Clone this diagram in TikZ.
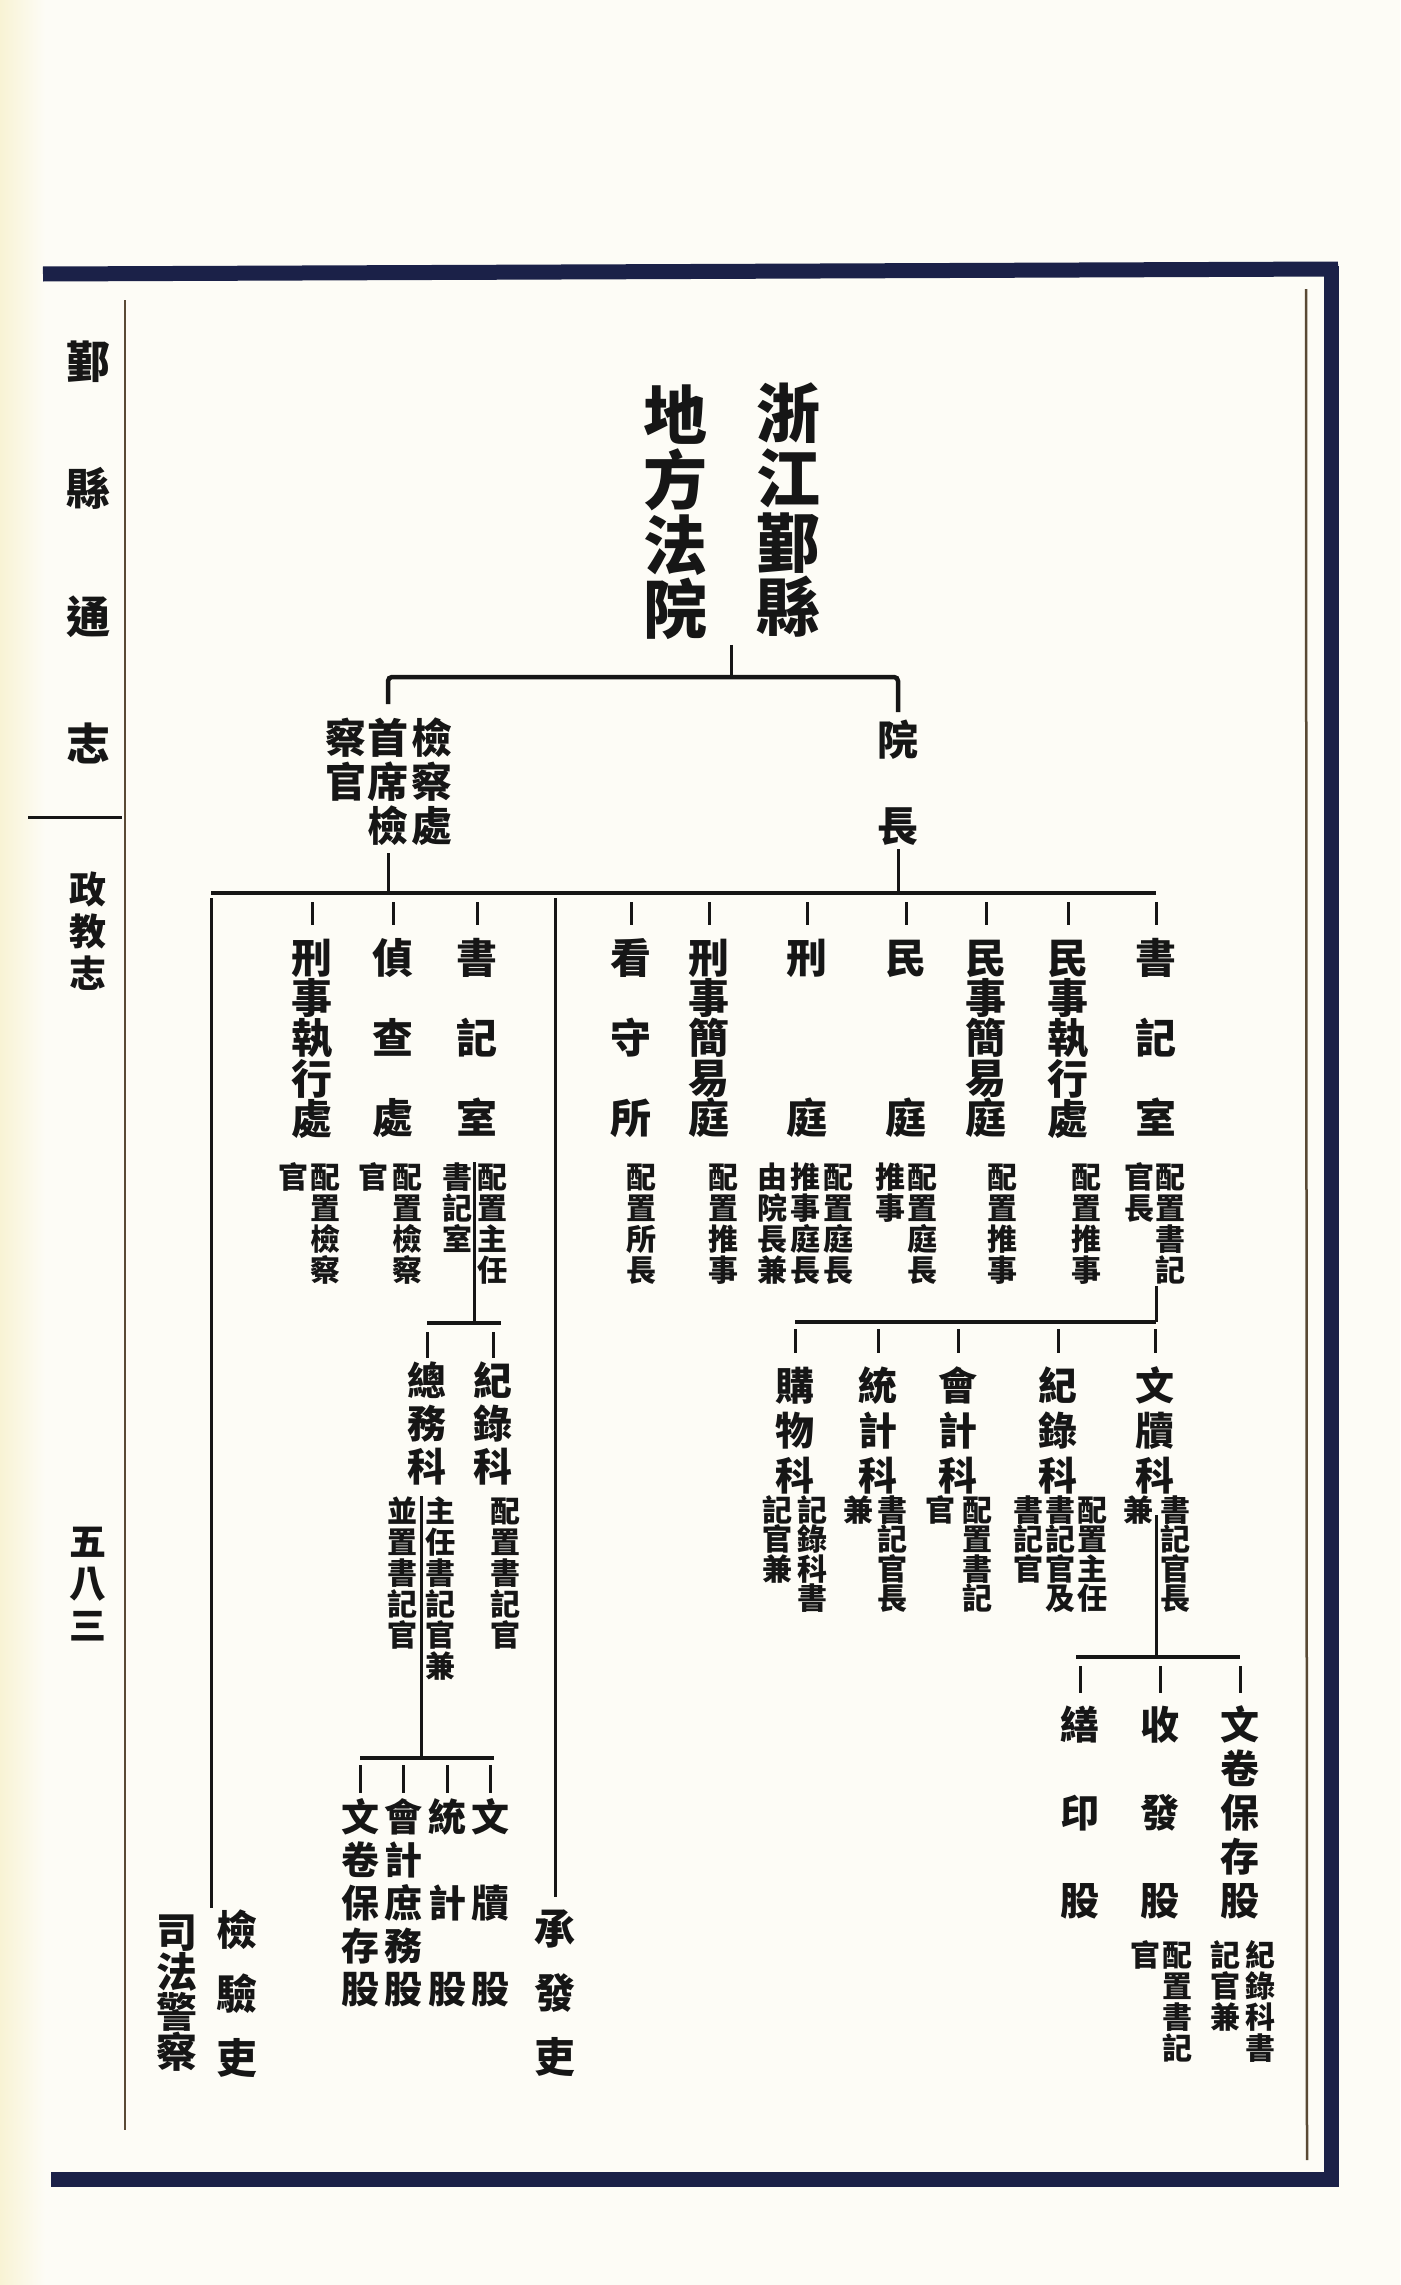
\documentclass[tikz,border=0pt]{standalone}
\usepackage{fontspec}
\newfontfamily\cjk{Noto Sans CJK TC}
\usetikzlibrary{calc}
\definecolor{ink}{HTML}{161616}
\definecolor{navy}{HTML}{1B2148}
\definecolor{rulec}{HTML}{5A4A35}
\definecolor{paper}{HTML}{FDFCF6}
\definecolor{yel}{HTML}{F8F3D4}
\makeatletter
\def\vt@star{*}
\newcommand\vtxt[2]{\vbox{\offinterlineskip\@tfor\vt@c:=#2\do{\hbox to 1em{\hss\vrule width 0pt height \dimexpr #1/2 + 0.38em\relax depth \dimexpr #1/2 - 0.38em\relax\ifx\vt@c\vt@star\else\vt@c\fi\hss}}}}
\makeatother
\tikzset{
  lbl/.style={inner sep=0pt, outer sep=0pt, anchor=north, text=ink},
  fT/.style={font=\cjk\bfseries\fontsize{64pt}{64pt}\selectfont},
  fM/.style={font=\cjk\bfseries\fontsize{44pt}{44pt}\selectfont},
  fm/.style={font=\cjk\bfseries\fontsize{37pt}{37pt}\selectfont},
  fA/.style={font=\cjk\bfseries\fontsize{41pt}{41pt}\selectfont},
  fB/.style={font=\cjk\bfseries\fontsize{39pt}{39pt}\selectfont},
  fC/.style={font=\cjk\bfseries\fontsize{38pt}{38pt}\selectfont},
  fn/.style={font=\cjk\bfseries\fontsize{30pt}{30pt}\selectfont},
  bar/.style={draw=ink, line width=4.5pt},
  tk/.style={draw=ink, line width=3pt},
}
\begin{document}
\begin{tikzpicture}[x=1pt,y=-1pt]
\useasboundingbox (0,0) rectangle (1400,2285);
% paper
\fill[paper] (0,0) rectangle (1400,2285);
\shade[left color=yel, right color=paper] (0,0) rectangle (45,2285);
% frame
\draw[navy, line width=15pt] (43,274) -- (1338,269);
\draw[navy, line width=15pt] (1331,266) -- (1331,2187);
\draw[navy, line width=15pt] (51,2179) -- (1339,2179);
\draw[rulec, line width=2.5pt] (1306,289) -- (1307,2160);
\draw[rulec, line width=2.5pt] (125,300) -- (125,2130);
\draw[ink, line width=3pt] (28,817) -- (122,817);
% margin texts
\node[lbl,fM] (M1) at (88,298) {\vtxt{127.5pt}{鄞縣通志}};
\node[lbl,fm] (M2) at (88,868) {\vtxt{42pt}{政教志}};
\node[lbl,fm] (M3) at (88,1520) {\vtxt{42pt}{五八三}};
% title
\node[lbl,fT] (T1) at (788,381) {\vtxt{64.7pt}{浙江鄞縣}};
\node[lbl,fT] (T2) at (675,383) {\vtxt{64.7pt}{地方法院}};
\coordinate (top) at (0,677);
\coordinate (b1) at (0,893);
\coordinate (b3) at (0,1322);
\coordinate (b4) at (0,1323);
\coordinate (b5) at (0,1758);
\coordinate (b6) at (0,1657);
\coordinate (tv) at ($(T1.south)!0.5!(T2.south)$);
\draw[tk, shorten <=4pt] (tv) -- (tv |- top);
% level 1
\node[lbl,fA] (J1) at (432,716) {\vtxt{44pt}{檢察處}};
\node[lbl,fA] (J2) at (388,716) {\vtxt{44pt}{首席檢}};
\node[lbl,fA] (J3) at (346,716) {\vtxt{44pt}{察官}};
\node[lbl,fA] (Y) at (898,718) {\vtxt{43pt}{院*長}};
\draw[bar, rounded corners=4pt] ([yshift=12pt]J2.north) -- (J2 |- top) -- (Y |- top) -- ([yshift=6pt]Y.north);
\draw[tk, shorten <=5pt] (J2.south) -- (J2.south |- b1);
\draw[tk, shorten <=2pt] (Y.south) -- (Y.south |- b1);
% level 2
\node[lbl,fA] (L1) at (312,938) {\vtxt{40pt}{刑事執行處}};
\node[lbl,fA] (L2) at (393,938) {\vtxt{40pt}{偵*查*處}};
\node[lbl,fA] (L3) at (477,938) {\vtxt{40pt}{書*記*室}};
\node[lbl,fA] (R1) at (631,938) {\vtxt{40pt}{看*守*所}};
\node[lbl,fA] (R2) at (709,938) {\vtxt{40pt}{刑事簡易庭}};
\node[lbl,fA] (R3) at (807,938) {\vtxt{40pt}{刑***庭}};
\node[lbl,fA] (R4) at (906,938) {\vtxt{40pt}{民***庭}};
\node[lbl,fA] (R5) at (986,938) {\vtxt{40pt}{民事簡易庭}};
\node[lbl,fA] (R6) at (1068,938) {\vtxt{40pt}{民事執行處}};
\node[lbl,fA] (R7) at (1156,938) {\vtxt{40pt}{書*記*室}};
\coordinate (LV) at (211,1908);
\node[lbl,fA] (K1) at (237,1898) {\vtxt{64pt}{檢驗吏}};
\node[lbl,fA] (K2) at (177,1912) {\vtxt{40pt}{司法警察}};
\node[lbl,fA] (C) at (555,1897) {\vtxt{64pt}{承發吏}};
\draw[bar] (LV |- b1) -- (R7 |- b1);
\draw[tk, shorten <=5pt] (LV |- b1) -- (LV);
\draw[tk, shorten <=5pt] (C.north |- b1) -- (C.north);
\foreach \n in {L1,L2,L3,R1,R2,R3,R4,R5,R6,R7}
  \draw[tk, shorten <=9pt] (\n.north |- b1) -- ([yshift=13pt]\n.north);
% level 2 notes
\node[lbl,fn] (A1r) at (325,1162) {\vtxt{31pt}{配置檢察}};
\node[lbl,fn] (A1l) at (293,1162) {\vtxt{31pt}{官}};
\node[lbl,fn] (A2r) at (407,1162) {\vtxt{31pt}{配置檢察}};
\node[lbl,fn] (A2l) at (373,1162) {\vtxt{31pt}{官}};
\node[lbl,fn] (A3r) at (492,1162) {\vtxt{31pt}{配置主任}};
\node[lbl,fn] (A3l) at (457,1162) {\vtxt{31pt}{書記室}};
\node[lbl,fn] (B1) at (641,1162) {\vtxt{31pt}{配置所長}};
\node[lbl,fn] (B2) at (723,1162) {\vtxt{31pt}{配置推事}};
\node[lbl,fn] (B3r) at (838,1162) {\vtxt{31pt}{配置庭長}};
\node[lbl,fn] (B3m) at (805,1162) {\vtxt{31pt}{推事庭長}};
\node[lbl,fn] (B3l) at (772,1162) {\vtxt{31pt}{由院長兼}};
\node[lbl,fn] (B4r) at (922,1162) {\vtxt{31pt}{配置庭長}};
\node[lbl,fn] (B4l) at (890,1162) {\vtxt{31pt}{推事}};
\node[lbl,fn] (B5) at (1002,1162) {\vtxt{31pt}{配置推事}};
\node[lbl,fn] (B6) at (1086,1162) {\vtxt{31pt}{配置推事}};
\node[lbl,fn] (B7r) at (1170,1162) {\vtxt{31pt}{配置書記}};
\node[lbl,fn] (B7l) at (1139,1162) {\vtxt{31pt}{官長}};
% left sub-tree
\coordinate (v3) at ($(A3r.north)!0.5!(A3l.north)$);
\node[lbl,fB] (G1) at (427,1359.5) {\vtxt{43pt}{總務科}};
\node[lbl,fB] (G2) at (493,1359.5) {\vtxt{43pt}{紀錄科}};
\draw[tk] (v3) -- (v3 |- b4);
\draw[bar] (G1 |- b4) -- ([xshift=8pt]G2 |- b4);
\foreach \n in {G1,G2}
  \draw[tk, shorten <=9pt] (\n.north |- b4) -- ([yshift=2pt]\n.north);
\node[lbl,fn] (G2a) at (505,1496) {\vtxt{31pt}{配置書記官}};
\node[lbl,fn] (G1r) at (440,1496) {\vtxt{31pt}{主任書記官兼}};
\node[lbl,fn] (G1l) at (402,1496) {\vtxt{31pt}{並置書記官}};
\coordinate (v5) at ($(G1r.north)!0.5!(G1l.north)$);
\draw[tk] (v5) -- (v5 |- b5);
\node[lbl,fC] (H1) at (360,1795.5) {\vtxt{43pt}{文卷保存股}};
\node[lbl,fC] (H2) at (403,1795.5) {\vtxt{43pt}{會計庶務股}};
\node[lbl,fC] (H3) at (447,1795.5) {\vtxt{43pt}{統*計*股}};
\node[lbl,fC] (H4) at (490,1795.5) {\vtxt{43pt}{文*牘*股}};
\draw[bar] (H1 |- b5) -- ([xshift=4pt]H4 |- b5);
\foreach \n in {H1,H2,H3,H4}
  \draw[tk, shorten <=7pt] (\n.north |- b5) -- ([yshift=3pt]\n.north);
% right sub-tree
\draw[tk] (R7 |- B7r.south) -- (R7 |- b3);
\node[lbl,fB] (S1) at (795,1363.5) {\vtxt{45pt}{購物科}};
\node[lbl,fB] (S2) at (878,1363.5) {\vtxt{45pt}{統計科}};
\node[lbl,fB] (S3) at (958,1363.5) {\vtxt{45pt}{會計科}};
\node[lbl,fB] (S4) at (1058,1363.5) {\vtxt{45pt}{紀錄科}};
\node[lbl,fB] (S5) at (1155,1363.5) {\vtxt{45pt}{文牘科}};
\draw[bar] (S1 |- b3) -- (R7 |- b3);
\foreach \n in {S1,S2,S3,S4,S5}
  \draw[tk, shorten <=7pt] (\n.north |- b3) -- ([yshift=11pt]\n.north);
\node[lbl,fn] (D1r) at (812,1495) {\vtxt{29.5pt}{記錄科書}};
\node[lbl,fn] (D1l) at (777,1495) {\vtxt{29.5pt}{記官兼}};
\node[lbl,fn] (D2r) at (892,1495) {\vtxt{29.5pt}{書記官長}};
\node[lbl,fn] (D2l) at (858,1495) {\vtxt{29.5pt}{兼}};
\node[lbl,fn] (D3r) at (977,1495) {\vtxt{29.5pt}{配置書記}};
\node[lbl,fn] (D3l) at (940,1495) {\vtxt{29.5pt}{官}};
\node[lbl,fn] (D4r) at (1092,1495) {\vtxt{29.5pt}{配置主任}};
\node[lbl,fn] (D4m) at (1060,1495) {\vtxt{29.5pt}{書記官及}};
\node[lbl,fn] (D4l) at (1028,1495) {\vtxt{29.5pt}{書記官}};
\node[lbl,fn] (D5r) at (1175,1495) {\vtxt{29.5pt}{書記官長}};
\node[lbl,fn] (D5l) at (1138,1495) {\vtxt{29.5pt}{兼}};
\coordinate (v6) at ($(D5r.north)!0.5!(D5l.north)$);
\draw[tk, shorten <=20pt] (v6) -- (v6 |- b6);
\node[lbl,fB] (U1) at (1080,1703) {\vtxt{44pt}{繕*印*股}};
\node[lbl,fB] (U2) at (1160,1703) {\vtxt{44pt}{收*發*股}};
\node[lbl,fB] (U3) at (1240,1703) {\vtxt{44pt}{文卷保存股}};
\draw[bar] ([xshift=-4pt]U1 |- b6) -- (U3 |- b6);
\foreach \n in {U1,U2,U3}
  \draw[tk, shorten <=9pt] (\n.north |- b6) -- ([yshift=10pt]\n.north);
\node[lbl,fn] (E2r) at (1177,1939.5) {\vtxt{31pt}{配置書記}};
\node[lbl,fn] (E2l) at (1145,1939.5) {\vtxt{31pt}{官}};
\node[lbl,fn] (E3r) at (1260,1939.5) {\vtxt{31pt}{紀錄科書}};
\node[lbl,fn] (E3l) at (1225,1939.5) {\vtxt{31pt}{記官兼}};
\end{tikzpicture}
\end{document}
